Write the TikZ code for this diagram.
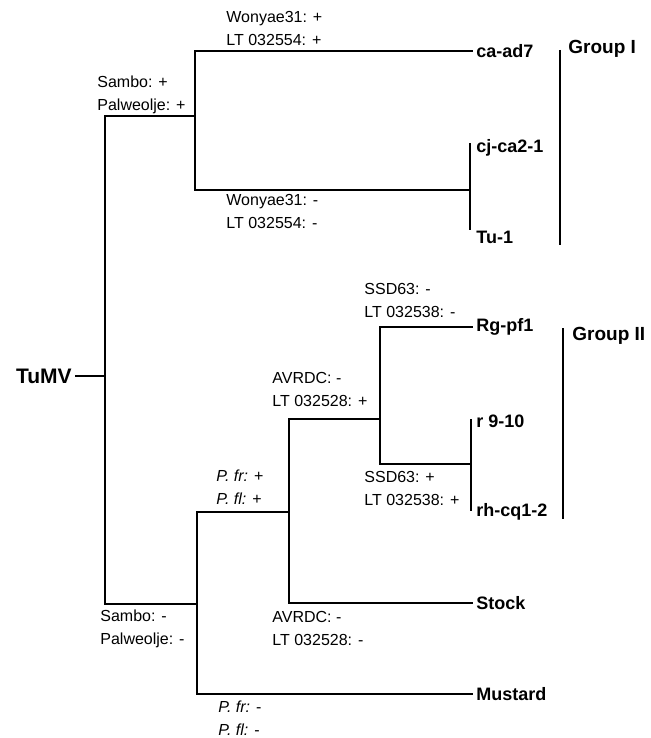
\documentclass[tikz,border=0pt]{standalone}
\usepackage{fontspec}
\setmainfont{Liberation Sans}
\usepackage{tikz}
\usetikzlibrary{positioning, calc}

\begin{document}
\begin{tikzpicture}[
  x=0.5pt, y=-0.5pt,
  branch/.style={line width=1pt, line cap=rect},
  bar/.style={line width=0.8pt},
  leaf/.style={anchor=west, inner sep=2pt, font=\fontsize{9}{11}\selectfont\bfseries},
  grp/.style={anchor=west, inner sep=2pt, font=\fontsize{9.5}{11}\selectfont\bfseries},
  lab/.style={anchor=west, inner sep=0pt, align=left,
    font=\fontsize{8}{11.5}\selectfont}
]
  \useasboundingbox (0,0) rectangle (651,738);

  % Root
  \node[anchor=east, inner sep=2pt, font=\fontsize{10.5}{12}\selectfont\bfseries]
    (tumv) at (76,376) {TuMV};
  \coordinate (n0) at (105,376);

  % Branch points
  \coordinate (nA) at (195,116);
  \coordinate (nB) at (470,190);
  \coordinate (nC) at (197,604);
  \coordinate (nD) at (289,512);
  \coordinate (nE) at (380,419);
  \coordinate (nF) at (471,464);

  % Leaves
  \node[leaf] (ca)  at (472,51)  {ca-ad7};
  \node[leaf] (cj)  at (472,148) {cj-ca2-1};
  \node[leaf] (tu)  at (472,237) {Tu-1};
  \node[leaf] (rg)  at (472,327) {Rg-pf1};
  \node[leaf] (r9)  at (472,421) {r 9-10};
  \node[leaf] (rh)  at (472,512) {rh-cq1-2};
  \node[leaf] (stock) at (472,603) {Stock};
  \node[leaf] (mustard) at (472,694) {Mustard};

  % Tree
  \draw[branch] (tumv.east) -- (n0);
  \draw[branch] (n0) |- (nA);
  \draw[branch] (n0) |- (nC);
  \draw[branch] (nA) |- (ca.west);
  \draw[branch] (nA) |- (nB);
  \draw[bar] (nB) ++(0,-47) -- ++(0,87);
  \draw[branch] (nC) |- (nD);
  \draw[branch] (nC) |- (mustard.west);
  \draw[branch] (nD) |- (nE);
  \draw[branch] (nD) |- (stock.west);
  \draw[branch] (nE) |- (rg.west);
  \draw[branch] (nE) |- (nF);
  \draw[branch] (nF) ++(0,-44) -- ++(0,90);

  % Groups
  \coordinate (g1t) at (560,50);
  \coordinate (g1b) at (560,245);
  \coordinate (g2t) at (563,328);
  \coordinate (g2b) at (563,519);
  \draw[bar] (g1t) -- (g1b);
  \draw[bar] (g2t) -- (g2b);
  \node[grp] (grpI)  at (564,49)  {Group I};
  \node[grp] (grpII) at (568,336) {Group II};

  % Branch labels
  \node[lab] (lA1) at (226,28.5) {Wonyae31: +\\LT 032554: +};
  \node[lab] (lA2) at (226,211)  {Wonyae31: -\\LT 032554: -};
  \node[lab] (l01) at (97,95)    {Sambo: +\\Palweolje: +};
  \node[lab] (l02) at (100,628.5) {Sambo: -\\Palweolje: -};
  \node[lab] (lE1) at (364,300.5) {SSD63: -\\LT 032538: -};
  \node[lab] (lE2) at (364,488.5) {SSD63: +\\LT 032538: +};
  \node[lab] (lD1) at (272,389.5) {AVRDC: -\\LT 032528: +};
  \node[lab] (lD2) at (272,628.5) {AVRDC: -\\LT 032528: -};
  \node[lab] (lC1) at (216,487.5) {\textit{P. fr:} +\\\textit{P. fl:} +};
  \node[lab] (lC2) at (218,718.5) {\textit{P. fr:} -\\\textit{P. fl:} -};
\end{tikzpicture}
\end{document}
